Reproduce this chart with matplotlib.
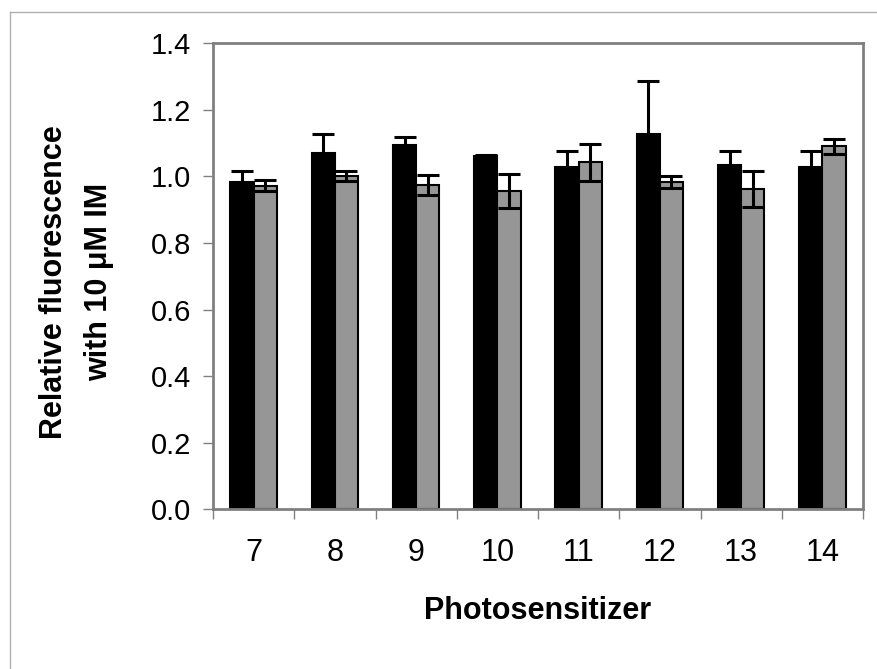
import matplotlib
matplotlib.use("Agg")
import matplotlib.pyplot as plt
from matplotlib.lines import Line2D
import numpy as np

categories = ["7", "8", "9", "10", "11", "12", "13", "14"]
black_vals = [0.982, 1.069, 1.094, 1.061, 1.027, 1.128, 1.035, 1.027]
black_errs = [0.034, 0.058, 0.025, 0.004, 0.049, 0.160, 0.041, 0.049]
gray_vals = [0.972, 1.000, 0.974, 0.956, 1.042, 0.982, 0.962, 1.090]
gray_errs = [0.017, 0.015, 0.030, 0.051, 0.056, 0.018, 0.054, 0.022]
yticks = [0.0, 0.2, 0.4, 0.6, 0.8, 1.0, 1.2, 1.4]

plt.rcParams['font.family'] = ['Liberation Sans', 'DejaVu Sans']

fig = plt.figure(figsize=(8.78, 6.69), dpi=100)
ax = fig.add_axes([213/878, 1 - 509.3/669, (863-213)/878, (509.3-43.3)/669])

x = np.arange(len(categories))
w = 0.2857
ax.bar(x - w/2, black_vals, w, color='black', edgecolor='black', linewidth=1.5, zorder=2)
ax.bar(x + w/2, gray_vals, w, color='#969696', edgecolor='black', linewidth=1.5, zorder=2)
ax.errorbar(x - w/2, black_vals, yerr=black_errs, fmt='none', ecolor='black',
            elinewidth=2.2, capsize=7.8, capthick=2.2, zorder=3)
ax.errorbar(x + w/2, gray_vals, yerr=gray_errs, fmt='none', ecolor='black',
            elinewidth=2.2, capsize=7.8, capthick=2.2, zorder=3)

ax.set_xlim(-0.5, len(categories) - 0.5)
ax.set_ylim(0, 1.4)
ax.set_yticks(yticks)
ax.set_yticklabels([f"{v:.1f}" for v in yticks], fontsize=21)
ax.set_xticks(x)
ax.set_xticklabels(categories, fontsize=22)
ax.set_xticks(np.arange(-0.5, len(categories), 1.0), minor=True)
ax.tick_params(axis='x', which='major', length=0, pad=21)
ax.tick_params(axis='x', which='minor', length=7, width=1, color='#808080', direction='out')
ax.tick_params(axis='y', which='major', length=7, width=1, color='#808080', direction='out', pad=9)

for s in ax.spines.values():
    s.set_color('#808080')
    s.set_linewidth(2)

ax.set_xlabel("Photosensitizer", fontsize=22, fontweight='bold', labelpad=20)

# two-line y label
fig.text(54/878, 1 - 282/669, "Relative fluorescence", rotation=90, fontsize=22,
         fontweight='bold', ha='center', va='center')
fig.text(99/878, 1 - 282/669, "with 10 μM IM", rotation=90, fontsize=22,
         fontweight='bold', ha='center', va='center')

# outer frame (partially cropped)
fig.add_artist(Line2D([10/878, 10/878], [0, 1 - 12/669], transform=fig.transFigure,
                      color='#b0b0b0', linewidth=1))
fig.add_artist(Line2D([10/878, 1], [1 - 12/669, 1 - 12/669], transform=fig.transFigure,
                      color='#b0b0b0', linewidth=1))

fig.savefig("out.png", dpi=100)
